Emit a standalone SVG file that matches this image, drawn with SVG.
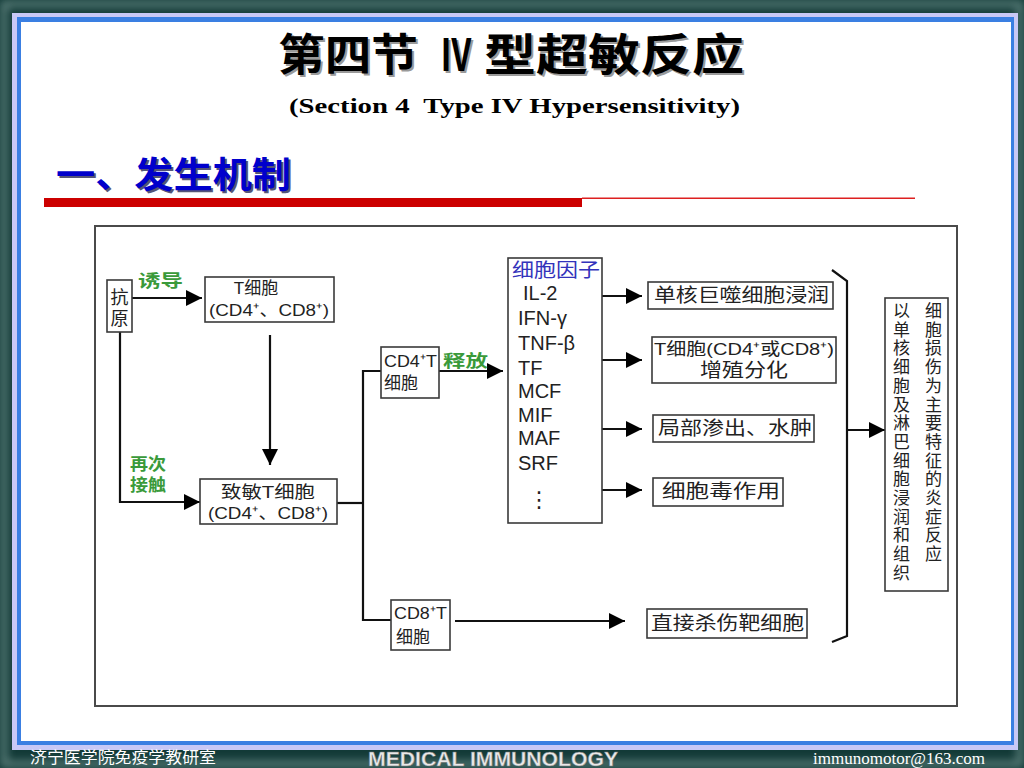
<svg xmlns="http://www.w3.org/2000/svg" width="1024" height="768" viewBox="0 0 1024 768">
<defs>
  <style>
    .cjk { font-family: "Liberation Sans", "Noto Sans CJK SC", sans-serif; fill: #222; }
    .lbl { font-size: 18px; }
    .green { fill: #3a9a3a; font-size: 17px; font-weight: bold; }
    .box { fill: #fff; stroke: #3a3a3a; stroke-width: 1.6; }
    .ln { fill: none; stroke: #111; stroke-width: 2.2; }
    .item { font-family: "Liberation Sans", "DejaVu Sans", sans-serif; font-size: 20px; fill: #222; }
    .foot { fill: #fff; }
    .ttl { font-family: "Noto Sans CJK SC", sans-serif; font-size: 44px; font-weight: bold; }
  </style>
  <marker id="ah" viewBox="0 0 16 16" refX="16" refY="8" markerWidth="16" markerHeight="16" markerUnits="userSpaceOnUse" orient="auto">
    <path d="M0,0 L16,8 L0,16 Z" fill="#000"/>
  </marker>
  <filter id="blur" x="-5%" y="-5%" width="110%" height="110%">
    <feGaussianBlur stdDeviation="4"/>
  </filter>
</defs>

<!-- slide frame -->
<rect x="0" y="0" width="1024" height="768" fill="#123a37"/>
<rect x="4" y="4" width="1016" height="760" fill="none" stroke="#5f827e" stroke-width="6" filter="url(#blur)"/>
<rect x="12" y="13" width="1006" height="737" fill="#c8c8f6"/>
<rect x="17" y="17" width="997" height="728" fill="#3a7fe2"/>
<rect x="21" y="22" width="990" height="719" fill="#fff"/>

<!-- title -->
<g id="title">
  <g fill="#9a9a9a" transform="translate(2,2)">
    <text class="ttl" x="278" y="71" textLength="140" lengthAdjust="spacingAndGlyphs">第四节</text>
    <text class="ttl" x="440" y="71" textLength="32" lengthAdjust="spacingAndGlyphs">Ⅳ</text>
    <text class="ttl" x="484" y="71" textLength="260" lengthAdjust="spacingAndGlyphs">型超敏反应</text>
  </g>
  <g fill="#000">
    <text class="ttl" x="278" y="71" textLength="140" lengthAdjust="spacingAndGlyphs">第四节</text>
    <text class="ttl" x="440" y="71" textLength="32" lengthAdjust="spacingAndGlyphs">Ⅳ</text>
    <text class="ttl" x="484" y="71" textLength="260" lengthAdjust="spacingAndGlyphs">型超敏反应</text>
  </g>
  <text x="289" y="113" xml:space="preserve" textLength="451" lengthAdjust="spacingAndGlyphs" font-family="Liberation Serif, serif" font-size="22" font-weight="bold" fill="#000">(Section 4  Type IV Hypersensitivity)</text>
</g>

<g id="heading">
  <text x="58" y="190" textLength="235" lengthAdjust="spacingAndGlyphs" font-family="Noto Sans CJK SC, sans-serif" font-size="36" font-weight="bold" fill="#555577">一、发生机制</text>
  <text x="56" y="188" textLength="235" lengthAdjust="spacingAndGlyphs" font-family="Noto Sans CJK SC, sans-serif" font-size="36" font-weight="bold" fill="#0000cc">一、发生机制</text>
  <rect x="44" y="198" width="538" height="9" fill="#cc0000"/>
  <rect x="582" y="197.5" width="333" height="1.5" fill="#dd2020"/>
</g>

<!-- diagram frame -->
<rect x="95" y="226" width="862" height="480" fill="#fff" stroke="#4a4a4a" stroke-width="2"/>

<!-- connectors -->
<g id="connectors">
  <line class="ln" x1="132" y1="298" x2="202" y2="298" marker-end="url(#ah)"/>
  <polyline class="ln" points="120,332 120,502 200,502" marker-end="url(#ah)"/>
  <line class="ln" x1="270" y1="335" x2="270" y2="465" marker-end="url(#ah)"/>
  <polyline class="ln" points="337,503 363,503"/>
  <polyline class="ln" points="381,371 363,371 363,620 391,620"/>
  <line class="ln" x1="439" y1="371" x2="503" y2="371" marker-end="url(#ah)"/>
  <line class="ln" x1="602" y1="296" x2="642" y2="296" marker-end="url(#ah)"/>
  <line class="ln" x1="602" y1="360" x2="642" y2="360" marker-end="url(#ah)"/>
  <line class="ln" x1="602" y1="429" x2="642" y2="429" marker-end="url(#ah)"/>
  <line class="ln" x1="602" y1="490" x2="642" y2="490" marker-end="url(#ah)"/>
  <line class="ln" x1="455" y1="621" x2="625" y2="621" marker-end="url(#ah)"/>
  <polyline class="ln" points="832,270 847,281 847,636 832,642"/>
  <line class="ln" x1="847" y1="430" x2="885" y2="430" stroke-width="3" marker-end="url(#ah)"/>
  <text class="cjk green" x="138" y="287" textLength="45" lengthAdjust="spacingAndGlyphs" style="fill:#3a9a3a">诱导</text>
  <text class="cjk green" x="130" y="470" textLength="36" lengthAdjust="spacingAndGlyphs" style="fill:#3a9a3a">再次</text>
  <text class="cjk green" x="130" y="491" textLength="36" lengthAdjust="spacingAndGlyphs" style="fill:#3a9a3a">接触</text>
  <text class="cjk green" x="443" y="367" textLength="45" lengthAdjust="spacingAndGlyphs" style="fill:#3a9a3a">释放</text>
</g>

<g id="antigen">
  <rect class="box" x="107" y="280" width="25" height="52"/>
  <text class="cjk lbl" x="119.5" y="304" text-anchor="middle">抗</text>
  <text class="cjk lbl" x="119.5" y="325" text-anchor="middle">原</text>
</g>

<g id="tcell">
  <rect class="box" x="205" y="277" width="129" height="45"/>
  <text class="cjk" x="256" y="294" font-size="17" text-anchor="middle">T细胞</text>
  <text class="cjk" x="209" y="316" font-size="17" textLength="120" lengthAdjust="spacingAndGlyphs">(CD4⁺、CD8⁺)</text>
</g>

<g id="sensitized">
  <rect class="box" x="200" y="479" width="137" height="45"/>
  <text class="cjk" x="268" y="498" font-size="17" text-anchor="middle" textLength="94" lengthAdjust="spacingAndGlyphs">致敏T细胞</text>
  <text class="cjk" x="208" y="519" font-size="17" textLength="120" lengthAdjust="spacingAndGlyphs">(CD4⁺、CD8⁺)</text>
</g>

<g id="cd4">
  <rect class="box" x="381" y="347" width="58" height="51"/>
  <text class="cjk" x="384" y="367" font-size="17" textLength="53" lengthAdjust="spacingAndGlyphs">CD4⁺T</text>
  <text class="cjk" x="384" y="389" font-size="17">细胞</text>
</g>

<g id="cd8">
  <rect class="box" x="391" y="600" width="59" height="50"/>
  <text class="cjk" x="394" y="619" font-size="17" textLength="53" lengthAdjust="spacingAndGlyphs">CD8⁺T</text>
  <text class="cjk" x="396" y="643" font-size="17">细胞</text>
</g>

<g id="cytokines">
  <rect class="box" x="508" y="258" width="94" height="265"/>
  <text x="512" y="277" font-family="Noto Sans CJK SC, sans-serif" font-size="19" fill="#3333bb" textLength="88" lengthAdjust="spacingAndGlyphs">细胞因子</text>
  <text class="item" x="523" y="300">IL-2</text>
  <text class="item" x="518" y="325">IFN-γ</text>
  <text class="item" x="518" y="350">TNF-β</text>
  <text class="item" x="518" y="375">TF</text>
  <text class="item" x="518" y="398">MCF</text>
  <text class="item" x="518" y="422">MIF</text>
  <text class="item" x="518" y="445">MAF</text>
  <text class="item" x="518" y="470">SRF</text>
  <text x="539" y="507" font-family="DejaVu Sans, sans-serif" font-size="22" fill="#222" text-anchor="middle">⋮</text>
</g>

<g id="out1">
  <rect class="box" x="648" y="282" width="185" height="27"/>
  <text class="cjk" x="654" y="302" font-size="19" textLength="175" lengthAdjust="spacingAndGlyphs">单核巨噬细胞浸润</text>
</g>
<g id="out2">
  <rect class="box" x="652" y="337" width="184" height="46"/>
  <text class="cjk" x="654" y="355" font-size="17" textLength="180" lengthAdjust="spacingAndGlyphs">T细胞(CD4⁺或CD8⁺)</text>
  <text class="cjk" x="700" y="377" font-size="19" textLength="88" lengthAdjust="spacingAndGlyphs">增殖分化</text>
</g>
<g id="out3">
  <rect class="box" x="653" y="415" width="161" height="27"/>
  <text class="cjk" x="658" y="435" font-size="19" textLength="154" lengthAdjust="spacingAndGlyphs">局部渗出、水肿</text>
</g>
<g id="out4">
  <rect class="box" x="653" y="478" width="130" height="28"/>
  <text class="cjk" x="662" y="498" font-size="19" textLength="118" lengthAdjust="spacingAndGlyphs">细胞毒作用</text>
</g>
<g id="out5">
  <rect class="box" x="647" y="609" width="160" height="29"/>
  <text class="cjk" x="651" y="630" font-size="19" textLength="153" lengthAdjust="spacingAndGlyphs">直接杀伤靶细胞</text>
</g>

<g id="result">
  <rect class="box" x="885" y="298" width="63" height="293"/>
  <text class="cjk" font-size="17" text-anchor="middle">
    <tspan x="901.5" y="317">以</tspan><tspan x="901.5" dy="18.7">单</tspan><tspan x="901.5" dy="18.7">核</tspan><tspan x="901.5" dy="18.7">细</tspan><tspan x="901.5" dy="18.7">胞</tspan><tspan x="901.5" dy="18.7">及</tspan><tspan x="901.5" dy="18.7">淋</tspan><tspan x="901.5" dy="18.7">巴</tspan><tspan x="901.5" dy="18.7">细</tspan><tspan x="901.5" dy="18.7">胞</tspan><tspan x="901.5" dy="18.7">浸</tspan><tspan x="901.5" dy="18.7">润</tspan><tspan x="901.5" dy="18.7">和</tspan><tspan x="901.5" dy="18.7">组</tspan><tspan x="901.5" dy="18.7">织</tspan>
  </text>
  <text class="cjk" font-size="17" text-anchor="middle">
    <tspan x="933.5" y="317">细</tspan><tspan x="933.5" dy="18.7">胞</tspan><tspan x="933.5" dy="18.7">损</tspan><tspan x="933.5" dy="18.7">伤</tspan><tspan x="933.5" dy="18.7">为</tspan><tspan x="933.5" dy="18.7">主</tspan><tspan x="933.5" dy="18.7">要</tspan><tspan x="933.5" dy="18.7">特</tspan><tspan x="933.5" dy="18.7">征</tspan><tspan x="933.5" dy="18.7">的</tspan><tspan x="933.5" dy="18.7">炎</tspan><tspan x="933.5" dy="18.7">症</tspan><tspan x="933.5" dy="18.7">反</tspan><tspan x="933.5" dy="18.7">应</tspan>
  </text>
</g>

<!-- footer -->
<g id="footer">
  <text class="foot" x="30" y="763" font-family="Noto Sans CJK SC, sans-serif" font-size="16" textLength="186" lengthAdjust="spacingAndGlyphs">济宁医学院免疫学教研室</text>
  <text x="368" y="766" font-family="Liberation Sans, sans-serif" font-size="20" font-weight="bold" fill="#e8e8e8" stroke="#777" stroke-width="0.4" textLength="250" lengthAdjust="spacingAndGlyphs">MEDICAL IMMUNOLOGY</text>
  <text class="foot" x="813" y="764" font-family="Liberation Serif, serif" font-size="17" textLength="172" lengthAdjust="spacingAndGlyphs">immunomotor@163.com</text>
</g>
</svg>
